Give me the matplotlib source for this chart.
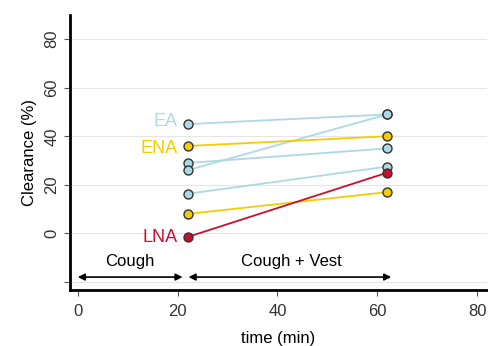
import matplotlib
matplotlib.use("Agg")
import matplotlib.pyplot as plt

plt.rcParams['font.family'] = ['Liberation Sans', 'DejaVu Sans']

# time points (min)
times = [22, 62]

# clearance (%) at the two time points, per subject and group
ea_start = [45, 29, 26, 16.3]
ea_end = [49, 35, 49, 27.5]
ena_start = [36, 8]
ena_end = [40, 17]
lna_start = [-1.5]
lna_end = [25]

blue = "#add8e6"
yellow = "#f5cc00"
red = "#c8102e"

fig = plt.figure(figsize=(4.88, 3.46), dpi=100)
ax = fig.add_axes([0.143, 0.162, 0.855, 0.795])

groups = [(ea_start, ea_end, blue), (ena_start, ena_end, yellow), (lna_start, lna_end, red)]
for starts, ends, col in groups:
    for s, e in zip(starts, ends):
        ax.plot(times, [s, e], color=col, lw=1.3, zorder=2)
        ax.scatter(times, [s, e], s=42, color=col, edgecolor="#333333",
                   linewidth=1.0, zorder=3)

# group labels next to first point
ax.text(20, ea_start[0] + 1, "EA", color=blue, fontsize=13, ha="right", va="center")
ax.text(20, ena_start[0] - 1, "ENA", color=yellow, fontsize=13, ha="right", va="center")
ax.text(20, lna_start[0], "LNA", color=red, fontsize=13, ha="right", va="center")

# phase arrows
arrow_y = -18
ax.annotate("", xy=(0, arrow_y), xytext=(21, arrow_y),
            arrowprops=dict(arrowstyle="<|-|>", color="black", lw=1.2,
                            mutation_scale=10, shrinkA=0, shrinkB=0))
ax.annotate("", xy=(22.2, arrow_y), xytext=(62.8, arrow_y),
            arrowprops=dict(arrowstyle="<|-|>", color="black", lw=1.2,
                            mutation_scale=10, shrinkA=0, shrinkB=0))
ax.text(10.4, -11.5, "Cough", fontsize=12, ha="center", va="center")
ax.text(42.8, -11.5, "Cough + Vest", fontsize=12, ha="center", va="center")

ax.set_xlim(-1.6, 82)
ax.set_ylim(-23.3, 90)
ax.set_xticks([0, 20, 40, 60, 80])
ax.set_yticks([-20, 0, 20, 40, 60, 80])
ax.set_yticklabels(["", "0", "20", "40", "60", "80"], rotation=90, va="center")
ax.grid(axis="y", color="#e6e6e6", lw=0.8, zorder=0)
ax.set_axisbelow(True)

for side in ["top", "right"]:
    ax.spines[side].set_visible(False)
for side in ["left", "bottom"]:
    ax.spines[side].set_linewidth(2)
ax.tick_params(axis="both", labelsize=12, labelcolor="#333333", color="#555555",
               length=4, width=0.8)
ax.tick_params(axis="x", pad=6)

ax.set_xlabel("time (min)", fontsize=12, labelpad=9)
ax.set_ylabel("Clearance (%)", fontsize=12, labelpad=5)

fig.savefig("out.png", dpi=100)
